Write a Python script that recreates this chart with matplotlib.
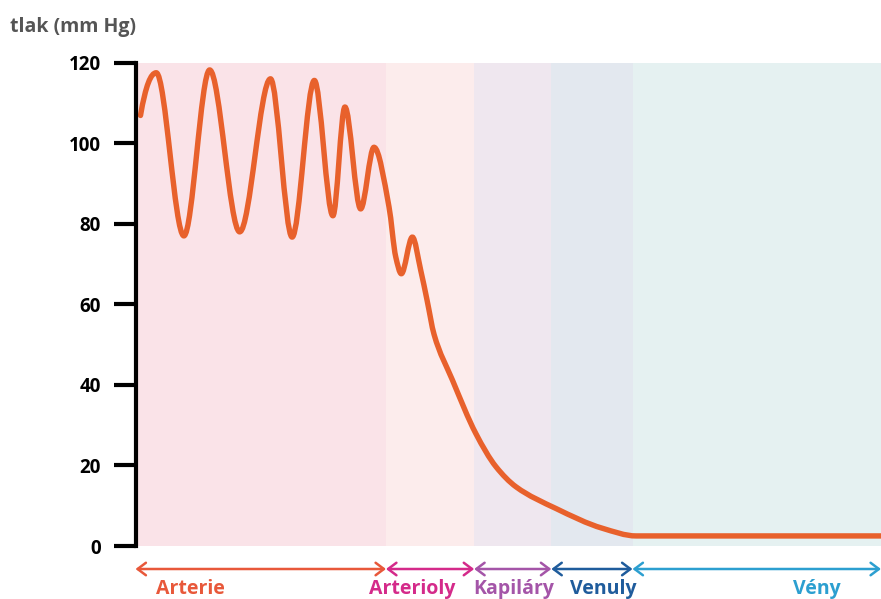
import numpy as np
import matplotlib
matplotlib.use('Agg')
import matplotlib.pyplot as plt
from matplotlib.path import Path
from matplotlib.patches import PathPatch
from matplotlib.transforms import blended_transform_factory

# vessel sections (x in arbitrary distance units along the vascular tree)
sections = ['Arterie', 'Arterioly', 'Kapiláry', 'Venuly', 'Vény']
bounds = [0, 250, 338, 415, 496, 744]
bgColors = ['#fae3e8', '#fcecec', '#efe7ef', '#e3e8ef', '#e5f1f1']
labelColors = ['#e8583a', '#d42a8a', '#a455a8', '#1f5c9c', '#2c9fd0']
labelX = [55, 276, 377, 467, 680]

# blood pressure curve (mm Hg): peaks, troughs, then the fall
posX = [5, 20.7, 48.3, 74, 104, 134.7, 156.3, 178.5, 197, 209, 224.7, 238,
        253, 259.7, 265.3, 276.3, 284.7, 291, 298, 316.3, 339.7, 359.7, 379.7,
        419.7, 466, 499.7, 560, 650, 744]
pressure = [106.9, 117.5, 77, 118.2, 78, 116, 76.7, 115.6, 82, 109, 83.7, 99,
            84.2, 71.8, 67.6, 76.7, 68.4, 61, 52.5, 41.2, 27.9, 19.7, 14.7,
            9.3, 4.4, 2.5, 2.5, 2.5, 2.5]

yTicks = [0, 20, 40, 60, 80, 100, 120]

W, H = 881, 599
fig = plt.figure(figsize=(W / 100, H / 100), dpi=100)
ax = fig.add_axes([135.5 / W, 53 / H, (W - 135.5) / W, 483.3 / H])

for i in range(len(sections)):
    ax.axvspan(bounds[i], bounds[i + 1], color=bgColors[i], lw=0, zorder=0)

# shape-preserving cubic (pchip style slopes) drawn as bezier segments
x = np.array(posX, float)
y = np.array(pressure, float)
h = np.diff(x)
d = np.diff(y) / h
m = np.zeros(len(x))
for i in range(1, len(x) - 1):
    if d[i - 1] * d[i] > 0:
        w1 = 2 * h[i] + h[i - 1]
        w2 = h[i] + 2 * h[i - 1]
        m[i] = (w1 + w2) / (w1 / d[i - 1] + w2 / d[i])
m[0] = ((2 * h[0] + h[1]) * d[0] - h[0] * d[1]) / (h[0] + h[1])
if np.sign(m[0]) != np.sign(d[0]):
    m[0] = 0
verts = [(x[0], y[0])]
codes = [Path.MOVETO]
for i in range(len(x) - 1):
    verts += [(x[i] + h[i] / 3, y[i] + m[i] * h[i] / 3),
              (x[i + 1] - h[i] / 3, y[i + 1] - m[i + 1] * h[i] / 3),
              (x[i + 1], y[i + 1])]
    codes += [Path.CURVE4] * 3
ax.add_patch(PathPatch(Path(verts, codes), fill=False, edgecolor='#e8612c',
                       lw=3.9, capstyle='round', joinstyle='round', zorder=3))

ax.set_xlim(bounds[0], bounds[-1])
ax.set_ylim(0, 120)
ax.set_yticks(yTicks)
ax.set_xticks([])
for s in ['top', 'right', 'bottom']:
    ax.spines[s].set_visible(False)
ax.spines['left'].set_linewidth(3)
ax.spines['left'].set_zorder(5)
ax.tick_params(axis='y', length=16, width=3, pad=9, labelsize=13.5)
for lab in ax.get_yticklabels():
    lab.set_fontfamily(['Open Sans', 'DejaVu Sans'])
    lab.set_fontweight('bold')

trans = blended_transform_factory(ax.transData, ax.transAxes)
for i in range(len(sections)):
    ax.annotate('', xy=(bounds[i], -0.0476), xytext=(bounds[i + 1], -0.0476),
                xycoords=trans, textcoords=trans, annotation_clip=False,
                arrowprops=dict(arrowstyle='<->,head_length=0.6,head_width=0.45',
                                color=labelColors[i], lw=1.8, shrinkA=0, shrinkB=0))
    ax.text(labelX[i], -0.089, sections[i], transform=trans, ha='center', va='center',
            color=labelColors[i], fontsize=14, fontweight='bold',
            family=['Open Sans', 'DejaVu Sans'], clip_on=False)

fig.text(10 / W, 1 - 27 / H, 'tlak (mm Hg)', ha='left', va='center', fontsize=14,
         fontweight='bold', color='#555555', family=['Open Sans', 'DejaVu Sans'])

fig.savefig('out.png', dpi=100)
